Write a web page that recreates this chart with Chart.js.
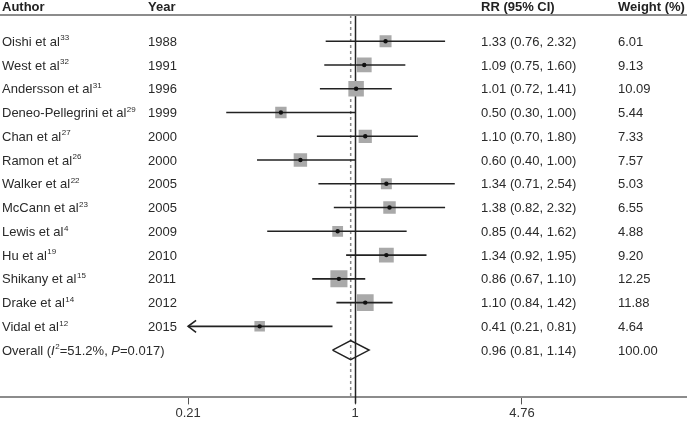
<!DOCTYPE html>
<html>
<head>
<meta charset="utf-8">
<script src="https://cdn.jsdelivr.net/npm/chart.js@4.4.1/dist/chart.umd.min.js"></script>
<style>
  html, body { margin: 0; padding: 0; background: #fff; }
</style>
</head>
<body>
<canvas id="forest" width="687" height="422"></canvas>
<script>
// study data
const authors = ['Oishi et al', 'West et al', 'Andersson et al', 'Deneo-Pellegrini et al', 'Chan et al',
                 'Ramon et al', 'Walker et al', 'McCann et al', 'Lewis et al', 'Hu et al',
                 'Shikany et al', 'Drake et al', 'Vidal et al'];
const refs = ['33', '32', '31', '29', '27', '26', '22', '23', '4', '19', '15', '14', '12'];
const years = ['1988', '1991', '1996', '1999', '2000', '2000', '2005', '2005', '2009', '2010', '2011', '2012', '2015'];
const rr = [1.33, 1.09, 1.01, 0.50, 1.10, 0.60, 1.34, 1.38, 0.85, 1.34, 0.86, 1.10, 0.41];
const lower = [0.76, 0.75, 0.72, 0.30, 0.70, 0.40, 0.71, 0.82, 0.44, 0.92, 0.67, 0.84, 0.21];
const upper = [2.32, 1.60, 1.41, 1.00, 1.80, 1.00, 2.54, 2.32, 1.62, 1.95, 1.10, 1.42, 0.81];
const weights = [6.01, 9.13, 10.09, 5.44, 7.33, 7.57, 5.03, 6.55, 4.88, 9.20, 12.25, 11.88, 4.64];

// pooled estimate
const overallRR = 0.96;
const overallLower = 0.81;
const overallUpper = 1.14;
const overallWeight = 100;

const tickValues = [0.21, 1, 4.76];
const tickLabels = ['0.21', '1', '4.76'];

const FONT = '"Liberation Sans", Arial, sans-serif';
const TEXT = '#2a2a2a';
const overallRow = authors.length;

// one line per confidence interval
const ciSets = authors.map((a, i) => ({
    data: [{ x: lower[i], y: i }, { x: upper[i], y: i }],
    showLine: true,
    borderColor: '#222',
    borderWidth: 1.6,
    pointRadius: 0,
    order: 2
}));

const boxSet = {
    data: rr.map((v, i) => ({ x: v, y: i })),
    pointStyle: 'rect',
    pointRadius: weights.map(w => 3.45 * Math.sqrt(w)),
    backgroundColor: '#a9a9a9',
    borderWidth: 0,
    order: 3
};

const dotSet = {
    data: rr.map((v, i) => ({ x: v, y: i })),
    pointRadius: 2.2,
    backgroundColor: '#111',
    borderWidth: 0,
    order: 1
};

const diamondSet = {
    data: [
        { x: overallLower, y: overallRow },
        { x: overallRR, y: overallRow - 0.4 },
        { x: overallUpper, y: overallRow },
        { x: overallRR, y: overallRow + 0.4 },
        { x: overallLower, y: overallRow }
    ],
    showLine: true,
    borderColor: '#222',
    borderWidth: 1.5,
    pointRadius: 0,
    order: 1
};

function drawSup(ctx, base, sup, x, y) {
    ctx.font = '13px ' + FONT;
    ctx.fillText(base, x, y);
    const w = ctx.measureText(base).width;
    ctx.font = '8px ' + FONT;
    ctx.fillText(sup, x + w + 0.5, y - 4);
    ctx.font = '13px ' + FONT;
}

const tablePlugin = {
    id: 'forestTable',
    beforeDatasetsDraw(chart) {
        const ctx = chart.ctx;
        const xs = chart.scales.x;
        const area = chart.chartArea;
        ctx.save();
        // no-effect line
        const x1 = Math.round(xs.getPixelForValue(1)) + 0.5;
        ctx.strokeStyle = '#222';
        ctx.lineWidth = 1.5;
        ctx.beginPath();
        ctx.moveTo(x1, area.top);
        ctx.lineTo(x1, area.bottom + 6);
        ctx.stroke();
        // pooled estimate line
        const xo = xs.getPixelForValue(overallRR);
        ctx.strokeStyle = '#888';
        ctx.setLineDash([3, 3]);
        ctx.beginPath();
        ctx.moveTo(xo, area.top);
        ctx.lineTo(xo, area.bottom);
        ctx.stroke();
        ctx.restore();
    },
    afterDraw(chart) {
        const ctx = chart.ctx;
        const xs = chart.scales.x;
        const ys = chart.scales.y;
        const area = chart.chartArea;
        const cols = [2, 148, 481, 618];
        const dy = 1; // nudge text onto the row centres
        ctx.save();

        // header rule
        ctx.strokeStyle = '#8c8c8c';
        ctx.lineWidth = 2;
        ctx.beginPath();
        ctx.moveTo(0, area.top);
        ctx.lineTo(chart.width, area.top);
        ctx.stroke();

        ctx.fillStyle = '#222';
        ctx.textBaseline = 'middle';
        ctx.font = 'bold 13px ' + FONT;
        const hy = area.top - 8;
        ctx.fillText('Author', cols[0], hy);
        ctx.fillText('Year', cols[1], hy);
        ctx.fillText('RR (95% CI)', cols[2], hy);
        ctx.fillText('Weight (%)', cols[3], hy);

        ctx.fillStyle = TEXT;
        authors.forEach((a, i) => {
            const y = ys.getPixelForValue(i) + dy;
            drawSup(ctx, a, refs[i], cols[0], y);
            ctx.fillText(years[i], cols[1], y);
            ctx.fillText(`${rr[i].toFixed(2)} (${lower[i].toFixed(2)}, ${upper[i].toFixed(2)})`, cols[2], y);
            ctx.fillText(weights[i].toFixed(2), cols[3], y);
        });

        // overall row with italic I² and P
        const oy = ys.getPixelForValue(overallRow) + dy;
        let x = cols[0];
        const parts = [
            ['Overall (', '13px', 0],
            ['I', 'italic 13px', 0],
            ['2', '8px', -4],
            ['=51.2%, ', '13px', 0],
            ['P', 'italic 13px', 0],
            ['=0.017)', '13px', 0]
        ];
        parts.forEach(p => {
            ctx.font = p[1] + ' ' + FONT;
            ctx.fillText(p[0], x, oy + p[2]);
            x += ctx.measureText(p[0]).width + (p[0] === 'I' ? 0.5 : 0);
        });
        ctx.font = '13px ' + FONT;
        ctx.fillText(`${overallRR.toFixed(2)} (${overallLower.toFixed(2)}, ${overallUpper.toFixed(2)})`, cols[2], oy);
        ctx.fillText(overallWeight.toFixed(2), cols[3], oy);

        // arrow for interval running off the left of the display range
        const last = authors.length - 1;
        const ax = xs.getPixelForValue(lower[last]);
        const ay = ys.getPixelForValue(last);
        ctx.strokeStyle = '#222';
        ctx.lineWidth = 1.6;
        ctx.beginPath();
        ctx.moveTo(ax + 8, ay - 6);
        ctx.lineTo(ax, ay);
        ctx.lineTo(ax + 8, ay + 6);
        ctx.stroke();
        ctx.restore();
    }
};

new Chart(document.getElementById('forest'), {
    type: 'scatter',
    data: { datasets: [...ciSets, boxSet, dotSet, diamondSet] },
    options: {
        responsive: false,
        animation: false,
        events: [],
        layout: { autoPadding: false, padding: { top: 15, bottom: 0, left: 0, right: 0 } },
        plugins: { legend: { display: false }, tooltip: { enabled: false } },
        scales: {
            x: {
                type: 'logarithmic',
                min: 0.0362,
                max: 22.26,
                afterBuildTicks: axis => { axis.ticks = tickValues.map(v => ({ value: v })); },
                ticks: {
                    autoSkip: false,
                    maxRotation: 0,
                    padding: 1,
                    color: '#333',
                    font: { family: FONT, size: 13 },
                    callback: (v, i) => tickLabels[i]
                },
                grid: { drawOnChartArea: false, drawTicks: true, tickLength: 7, color: '#555', lineWidth: 1 },
                border: { display: true, color: '#8c8c8c', width: 2 }
            },
            y: {
                type: 'linear',
                display: false,
                reverse: true,
                min: -1.104,
                max: 14.99
            }
        }
    },
    plugins: [tablePlugin]
});
</script>
</body>
</html>
